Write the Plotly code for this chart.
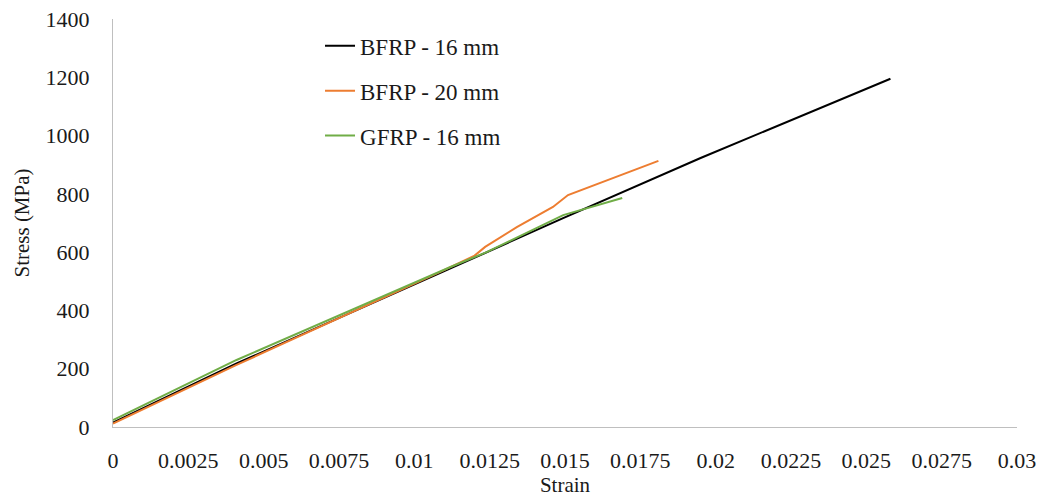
import plotly.graph_objects as go

# Data
bfrp16_strain = [0.0, 0.0041, 0.0112, 0.01235, 0.0149, 0.0195, 0.0258]
bfrp16_stress = [15, 218, 544, 597, 715, 923, 1195]

bfrp20_strain = [0.0, 0.0041, 0.01086, 0.0120, 0.01235, 0.0134, 0.0146, 0.0151, 0.0181]
bfrp20_stress = [12, 213, 532, 588, 618, 686, 755, 796, 913]

gfrp16_strain = [0.0, 0.0041, 0.0112, 0.0124, 0.01494, 0.0169]
gfrp16_stress = [24, 230, 549, 600, 727, 786]

series_names = ["BFRP - 16 mm", "BFRP - 20 mm", "GFRP - 16 mm"]
series_colors = ["#000000", "#ED7D31", "#70AD47"]

x_tickvals = [0, 0.0025, 0.005, 0.0075, 0.01, 0.0125, 0.015, 0.0175, 0.02, 0.0225, 0.025, 0.0275, 0.03]
x_ticktext = ["0", "0.0025", "0.005", "0.0075", "0.01", "0.0125", "0.015", "0.0175", "0.02", "0.0225", "0.025", "0.0275", "0.03"]
y_tickvals = [0, 200, 400, 600, 800, 1000, 1200, 1400]

FONT = "Liberation Serif, Times New Roman, serif"

fig = go.Figure()
data = [(bfrp16_strain, bfrp16_stress), (bfrp20_strain, bfrp20_stress), (gfrp16_strain, gfrp16_stress)]
for i, ((xs, ys), name, color) in enumerate(zip(data, series_names, series_colors)):
    fig.add_trace(go.Scatter(x=xs, y=ys, mode="lines", name=name,
                             legendgroup=f"g{i}",
                             line=dict(color=color, width=2)))

fig.update_layout(
    width=1048, height=497,
    margin=dict(l=113, r=31, t=19, b=70),
    paper_bgcolor="white", plot_bgcolor="white",
    font=dict(family=FONT, size=22, color="#1a1a1a"),
    showlegend=True,
    legend=dict(x=0.229, y=0.987, xanchor="left", yanchor="top",
                bgcolor="rgba(0,0,0,0)", font=dict(family=FONT, size=23, color="#1a1a1a"),
                tracegroupgap=12, itemwidth=30),
    xaxis=dict(range=[0, 0.03], tickvals=x_tickvals, ticktext=x_ticktext,
               showgrid=False, zeroline=False, showline=True, linecolor="#BFBFBF", linewidth=1,
               ticks="", ticklabelstandoff=14, automargin=False,
               title=dict(text="Strain", font=dict(family=FONT, size=21), standoff=12)),
    yaxis=dict(range=[0, 1400], tickvals=y_tickvals,
               showgrid=False, zeroline=False, showline=True, linecolor="#BFBFBF", linewidth=1,
               ticks="", ticklabelstandoff=18, automargin=False,
               title=dict(text="Stress (MPa)", font=dict(family=FONT, size=21), standoff=10)),
)

fig.write_html("out.html")
